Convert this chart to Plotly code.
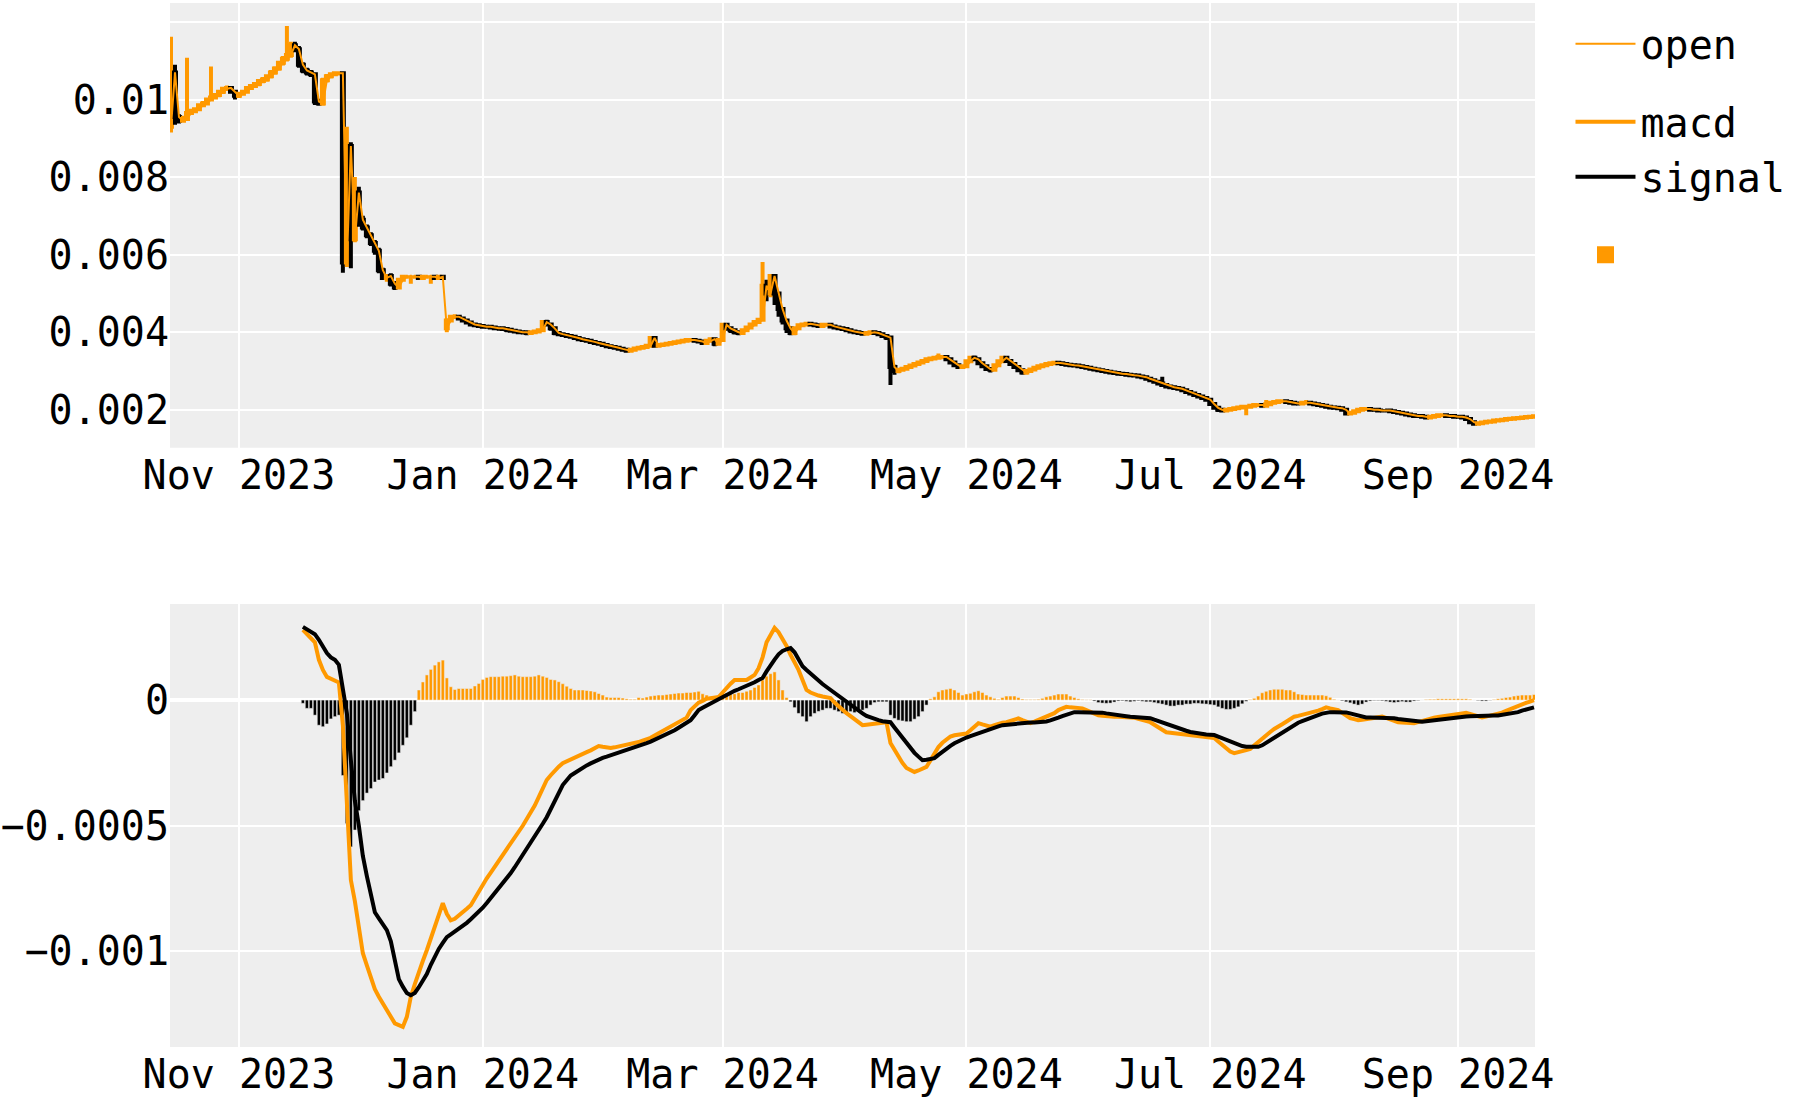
import pandas as pd
import plotly.graph_objects as go
from plotly.subplots import make_subplots

ORANGE = "#ff9900"
BG = "#eeeeee"

# ---- top panel: daily prices, units of 1e-5, starting 2023-10-15 ----
open_ = [
    930, 1070, 955, 945, 950, 965, 970, 975, 985, 990,
    1000, 1005, 1012, 1020, 1028, 1030, 1020, 1010, 1015, 1020,
    1030, 1035, 1040, 1048, 1052, 1060, 1070, 1080, 1095, 1105,
    1115, 1140, 1130, 1090, 1075, 1070, 1065, 995, 990, 1050,
    1060, 1065, 1068, 1068, 580, 880, 640, 760, 690, 670,
    650, 630, 610, 560, 540, 545, 525, 515, 535, 543,
    543, 543, 543, 540, 543, 543, 543, 540, 543, 410,
    430, 440, 440, 435, 430, 425, 420, 418, 416, 414,
    414, 412, 410, 410, 408, 406, 404, 402, 400, 400,
    398, 400, 402, 405, 426, 420, 410, 398, 395, 393,
    390, 388, 385, 382, 380, 378, 375, 372, 370, 367,
    364, 362, 360, 357, 355, 352, 355, 358, 360, 362,
    365, 385, 365, 367, 368, 370, 372, 374, 376, 378,
    380, 380, 378, 376, 372, 378, 382, 370, 380, 419,
    410, 405, 400, 398, 405, 412, 420, 426, 432, 520,
    500, 545, 500, 460, 430, 410, 398, 410, 418, 420,
    422, 420, 418, 416, 419, 419, 415, 412, 410, 408,
    405, 402, 400, 398, 396, 398, 400, 398, 395, 390,
    386, 310, 300, 303, 306, 310, 314, 318, 322, 326,
    330, 332, 334, 336, 336, 330, 322, 315, 310, 312,
    325, 334, 330, 320, 312, 305, 303, 315, 325, 334,
    326, 318, 310, 302, 296, 300, 304, 308, 312, 315,
    318, 320, 321, 320, 318, 316, 315, 314, 312, 310,
    308, 306, 304, 302, 300, 298, 296, 295, 293, 292,
    290, 289, 288, 286, 284, 280, 276, 272, 268, 264,
    260, 258, 256, 254, 250, 246, 242, 238, 234, 230,
    226, 215, 205, 200, 198, 200, 202, 204, 206, 208,
    208, 210, 212, 212, 210, 214, 218, 220, 222, 222,
    220, 218, 216, 216, 218, 218, 216, 214, 212, 210,
    208, 206, 205, 204, 200, 190, 192, 196, 200, 202,
    202, 200, 200, 198, 198, 198, 196, 194, 192, 190,
    188, 186, 184, 184, 182, 180, 182, 184, 186, 186,
    184, 184, 182, 182, 180, 176, 168, 164, 165, 167,
    169, 170, 172, 173, 174, 176, 177, 178, 179, 180,
    181, 182,
]
close_ = [
    1070, 955, 945, 950, 965, 970, 975, 985, 990, 1000,
    1005, 1012, 1020, 1028, 1030, 1020, 1010, 1015, 1020, 1030,
    1035, 1040, 1048, 1052, 1060, 1070, 1080, 1095, 1105, 1115,
    1140, 1130, 1090, 1075, 1070, 1065, 995, 990, 1050, 1060,
    1065, 1068, 1068, 580, 880, 640, 760, 690, 670, 650,
    630, 610, 560, 540, 545, 525, 515, 535, 543, 543,
    543, 543, 540, 543, 543, 543, 540, 543, 540, 430,
    440, 440, 435, 430, 425, 420, 418, 416, 414, 414,
    412, 410, 410, 408, 406, 404, 402, 400, 400, 398,
    400, 402, 405, 426, 420, 410, 398, 395, 393, 390,
    388, 385, 382, 380, 378, 375, 372, 370, 367, 364,
    362, 360, 357, 355, 352, 355, 358, 360, 362, 365,
    385, 365, 367, 368, 370, 372, 374, 376, 378, 380,
    380, 378, 376, 372, 378, 382, 370, 380, 419, 410,
    405, 400, 398, 405, 412, 420, 426, 432, 520, 500,
    545, 500, 460, 430, 410, 398, 410, 418, 420, 422,
    420, 418, 416, 419, 419, 415, 412, 410, 408, 405,
    402, 400, 398, 396, 398, 400, 398, 395, 390, 386,
    310, 300, 303, 306, 310, 314, 318, 322, 326, 330,
    332, 334, 336, 336, 330, 322, 315, 310, 312, 325,
    334, 330, 320, 312, 305, 303, 315, 325, 334, 326,
    318, 310, 302, 296, 300, 304, 308, 312, 315, 318,
    320, 321, 320, 318, 316, 315, 314, 312, 310, 308,
    306, 304, 302, 300, 298, 296, 295, 293, 292, 290,
    289, 288, 286, 284, 280, 276, 272, 268, 264, 260,
    258, 256, 254, 250, 246, 242, 238, 234, 230, 226,
    215, 205, 200, 198, 200, 202, 204, 206, 208, 208,
    210, 212, 212, 210, 214, 218, 220, 222, 222, 220,
    218, 216, 216, 218, 218, 216, 214, 212, 210, 208,
    206, 205, 204, 200, 190, 192, 196, 200, 202, 202,
    200, 200, 198, 198, 198, 196, 194, 192, 190, 188,
    186, 184, 184, 182, 180, 182, 184, 186, 186, 184,
    184, 182, 182, 180, 176, 168, 164, 165, 167, 169,
    170, 172, 173, 174, 176, 177, 178, 179, 180, 181,
    182, 183,
]
high_ = [
    1162, 1090, 962, 958, 1108, 976, 980, 990, 996, 1005,
    1085, 1017, 1025, 1033, 1036, 1035, 1025, 1020, 1025, 1034,
    1040, 1045, 1052, 1058, 1065, 1076, 1086, 1100, 1112, 1190,
    1149, 1149, 1138, 1096, 1082, 1076, 1070, 1002, 1056, 1066,
    1070, 1072, 1072, 1072, 930, 890, 800, 775, 700, 678,
    658, 638, 618, 566, 550, 552, 532, 540, 548, 547,
    547, 547, 547, 547, 547, 547, 547, 547, 547, 436,
    445, 446, 444, 440, 434, 430, 425, 422, 420, 419,
    418, 416, 415, 414, 412, 410, 408, 406, 405, 404,
    404, 406, 409, 430, 432, 425, 414, 402, 399, 397,
    394, 392, 389, 386, 384, 382, 379, 376, 374, 371,
    368, 366, 364, 361, 359, 359, 362, 364, 366, 369,
    388, 388, 371, 372, 374, 376, 378, 380, 382, 384,
    385, 384, 382, 380, 382, 386, 386, 384, 423, 424,
    415, 410, 405, 410, 416, 424, 430, 436, 581, 535,
    548, 548, 505, 465, 435, 415, 414, 422, 424, 426,
    427, 424, 422, 423, 424, 423, 419, 416, 414, 412,
    409, 406, 404, 402, 402, 404, 404, 402, 399, 394,
    390, 316, 307, 310, 314, 318, 322, 326, 330, 334,
    336, 338, 345, 341, 340, 334, 326, 319, 316, 329,
    338, 340, 334, 324, 316, 309, 319, 329, 338, 338,
    330, 322, 314, 306, 304, 308, 312, 316, 319, 322,
    324, 325, 325, 324, 322, 320, 319, 318, 316, 314,
    312, 310, 308, 306, 304, 302, 300, 299, 297, 296,
    294, 293, 292, 290, 288, 284, 280, 276, 285, 268,
    264, 262, 260, 258, 254, 250, 246, 242, 238, 234,
    230, 219, 209, 204, 204, 206, 208, 210, 212, 212,
    214, 216, 216, 216, 225, 222, 224, 226, 226, 226,
    224, 222, 220, 222, 225, 222, 220, 218, 216, 214,
    212, 210, 209, 208, 204, 196, 200, 204, 206, 206,
    206, 204, 204, 202, 202, 202, 200, 198, 196, 194,
    192, 190, 188, 188, 186, 186, 188, 190, 190, 190,
    188, 188, 186, 186, 184, 180, 172, 169, 171, 173,
    174, 176, 177, 178, 180, 181, 182, 183, 184, 185,
    186, 187,
]
low_ = [
    915, 935, 938, 940, 945, 960, 965, 970, 980, 985,
    995, 1000, 1006, 1014, 1022, 1015, 1000, 1004, 1010, 1015,
    1025, 1030, 1034, 1042, 1046, 1054, 1064, 1074, 1088, 1098,
    1108, 1122, 1082, 1068, 1062, 1058, 986, 984, 984, 1044,
    1054, 1060, 1062, 553, 568, 565, 632, 672, 662, 642,
    622, 600, 552, 535, 530, 518, 509, 510, 530, 538,
    525, 538, 535, 535, 538, 525, 535, 535, 535, 400,
    425, 434, 430, 425, 420, 415, 413, 411, 409, 409,
    407, 405, 404, 403, 400, 399, 397, 395, 394, 392,
    393, 395, 397, 400, 415, 404, 392, 390, 388, 385,
    383, 380, 377, 375, 373, 370, 367, 365, 362, 359,
    357, 355, 352, 350, 347, 347, 350, 353, 355, 357,
    360, 360, 360, 362, 363, 365, 367, 369, 371, 373,
    374, 373, 371, 367, 367, 373, 364, 365, 375, 404,
    398, 394, 392, 393, 400, 407, 415, 421, 428, 480,
    490, 470, 440, 420, 398, 392, 392, 405, 413, 415,
    415, 413, 411, 411, 414, 410, 407, 405, 403, 400,
    397, 395, 393, 391, 391, 393, 393, 390, 385, 380,
    264, 290, 294, 298, 301, 305, 309, 313, 317, 321,
    325, 327, 329, 330, 325, 317, 310, 305, 305, 307,
    320, 325, 315, 307, 300, 296, 298, 310, 320, 321,
    313, 305, 297, 290, 290, 295, 299, 303, 307, 310,
    313, 315, 315, 313, 311, 310, 309, 307, 305, 303,
    301, 299, 297, 295, 293, 291, 290, 288, 287, 285,
    284, 283, 281, 279, 275, 271, 267, 263, 259, 255,
    253, 251, 249, 245, 241, 237, 233, 229, 225, 221,
    210, 200, 194, 193, 193, 195, 197, 199, 201, 186,
    203, 205, 207, 205, 205, 209, 213, 215, 217, 215,
    213, 211, 211, 211, 213, 211, 209, 207, 205, 203,
    201, 200, 199, 195, 185, 185, 187, 191, 195, 197,
    195, 195, 193, 193, 193, 191, 189, 187, 185, 183,
    181, 179, 179, 177, 175, 175, 177, 179, 181, 179,
    179, 177, 177, 175, 171, 163, 160, 160, 161, 163,
    165, 166, 168, 169, 170, 172, 173, 174, 175, 176,
    177, 178,
]

# ---- bottom panel: daily MACD values, units of 1e-6, starting 2023-11-17 ----
macd = [
    279, 262, 246, 230, 160, 120, 92, 86, 80, 70,
    -100, -450, -716, -800, -900, -1007, -1055, -1100, -1150, -1180,
    -1205, -1230, -1258, -1286, -1293, -1300, -1260, -1180, -1130, -1080,
    -1038, -995, -948, -900, -855, -808, -850, -876, -870, -858,
    -845, -830, -816, -788, -760, -735, -709, -686, -663, -640,
    -618, -597, -575, -550, -525, -500, -473, -447, -420, -386,
    -352, -318, -299, -280, -265, -251, -243, -235, -228, -220,
    -213, -207, -200, -192, -183, -186, -189, -191, -188, -185,
    -180, -175, -172, -170, -167, -161, -156, -150, -141, -132,
    -124, -115, -107, -98, -90, -80, -70, -40, -25, -10,
    -3, 5, 7, 10, 12, 30, 50, 65, 80, 80,
    80, 80, 90, 100, 127, 170, 230, 260, 287, 270,
    245, 215, 180, 150, 120, 80, 40, 30, 22, 18,
    14, 10, 8, -10, -25, -40, -52, -64, -76, -88,
    -100, -98, -96, -92, -90, -89, -88, -171, -200, -227,
    -250, -270, -280, -286, -280, -273, -266, -240, -213, -187,
    -170, -155, -145, -140, -137, -135, -133, -120, -106, -92,
    -97, -102, -106, -100, -94, -90, -88, -83, -78, -73,
    -80, -86, -92, -86, -80, -73, -67, -61, -52, -40,
    -32, -27, -29, -31, -32, -33, -40, -47, -54, -61,
    -62, -64, -65, -66, -66, -66, -66, -66, -70, -75,
    -80, -84, -88, -98, -108, -118, -128, -130, -132, -134,
    -135, -136, -137, -139, -140, -143, -146, -149, -151, -165,
    -180, -195, -205, -211, -208, -204, -199, -194, -180, -165,
    -151, -139, -127, -115, -107, -96, -86, -76, -66, -63,
    -59, -56, -53, -48, -42, -36, -29, -33, -36, -40,
    -51, -62, -72, -76, -80, -78, -76, -73, -71, -68,
    -66, -71, -77, -83, -88, -89, -90, -91, -92, -88,
    -83, -78, -72, -70, -67, -64, -62, -61, -58, -56,
    -53, -51, -56, -60, -65, -69, -66, -63, -60, -56,
    -50, -43, -36, -29, -23, -17, -11, -6, 0,
]
signal = [
    291, 281, 271, 262, 240, 210, 187, 170, 160, 140,
    52, -52, -239, -400, -500, -620, -700, -770, -844, -868,
    -892, -915, -960, -1040, -1110, -1140, -1165, -1174, -1165, -1142,
    -1116, -1090, -1053, -1020, -990, -966, -943, -932, -921, -910,
    -900, -886, -872, -858, -844, -826, -807, -788, -770, -749,
    -728, -708, -688, -665, -641, -617, -593, -570, -544, -518,
    -492, -466, -433, -400, -369, -338, -319, -300, -290, -279,
    -270, -260, -252, -244, -235, -230, -225, -220, -215, -210,
    -205, -200, -194, -189, -183, -177, -171, -165, -158, -151,
    -144, -137, -130, -120, -110, -100, -90, -80, -60, -40,
    -31, -22, -13, -5, 3, 11, 20, 28, 37, 43,
    49, 55, 63, 71, 80, 88, 114, 140, 161, 182,
    195, 202, 207, 190, 160, 135, 120, 105, 90, 75,
    64, 52, 40, 29, 19, 8, -5, -18, -30, -42,
    -53, -63, -70, -76, -80, -84, -86, -88, -109, -130,
    -150, -171, -190, -210, -225, -239, -237, -234, -231, -218,
    -205, -192, -182, -172, -163, -155, -149, -143, -137, -131,
    -125, -119, -114, -109, -105, -100, -98, -96, -94, -92,
    -91, -90, -89, -89, -88, -88, -85, -81, -77, -70,
    -64, -59, -53, -48, -48, -48, -48, -48, -48, -48,
    -50, -53, -56, -58, -61, -63, -64, -66, -67, -68,
    -69, -70, -72, -78, -84, -90, -96, -101, -106, -112,
    -117, -122, -127, -130, -133, -135, -137, -138, -139, -145,
    -152, -159, -165, -171, -177, -183, -186, -186, -186, -186,
    -180, -170, -161, -151, -140, -130, -120, -109, -98, -90,
    -84, -77, -70, -65, -60, -54, -49, -48, -48, -48,
    -48, -49, -53, -57, -61, -65, -69, -69, -69, -69,
    -69, -69, -69, -72, -75, -77, -80, -83, -85, -88,
    -86, -84, -82, -80, -77, -74, -72, -69, -68, -67,
    -66, -65, -64, -63, -62, -61, -61, -61, -61, -61,
    -59, -56, -53, -50, -48, -42, -37, -33, -29,
]
hist = [
    -13, -33, -33, -60, -100, -106, -95, -75, -66, -60,
    -300, -491, -584, -517, -440, -400, -370, -352, -326, -318,
    -312, -290, -265, -239, -210, -180, -150, -100, -46, 40,
    72, 100, 122, 139, 152, 159, 88, 53, 42, 46,
    46, 46, 46, 56, 66, 82, 90, 93, 93, 93,
    95, 95, 97, 100, 95, 93, 93, 93, 95, 100,
    95, 90, 82, 80, 73, 65, 55, 46, 40, 40,
    40, 38, 36, 33, 26, 20, 12, 10, 10, 10,
    8, 5, 3, 3, 10, 8, 12, 16, 18, 20,
    20, 22, 24, 26, 28, 28, 30, 30, 32, 35,
    25, 20, 15, 10, 20, 35, 28, 25, 25, 30,
    30, 35, 40, 50, 60, 80, 95, 105, 112, 80,
    40, 10, -7, -30, -53, -66, -86, -66, -53, -45,
    -40, -33, -33, -40, -46, -53, -50, -46, -50, -46,
    -40, -33, -20, -10, -7, -7, -7, -60, -73, -80,
    -83, -86, -86, -76, -66, -46, -20, 5, 13, 33,
    40, 43, 46, 40, 30, 20, 24, 27, 33, 37,
    30, 20, 13, 7, 3, 10, 16, 16, 16, 10,
    4, 2, 2, 2, 3, 7, 13, 16, 20, 24,
    24, 24, 16, 10, 5, 2, 1, 1, -4, -10,
    -12, -13, -12, -8, -4, -3, -5, -7, -5, -3,
    -5, -7, -7, -10, -13, -16, -20, -24, -24, -20,
    -20, -16, -16, -13, -13, -15, -16, -18, -20, -27,
    -33, -37, -37, -33, -27, -15, -5, 2, 7, 16,
    29, 35, 40, 43, 43, 43, 40, 40, 33, 24,
    22, 20, 20, 20, 20, 20, 17, 11, 3, 0,
    -3, -7, -11, -16, -20, -16, -8, -4, -2, -2,
    -3, -5, -8, -10, -8, -6, -8, -8, -4, -2,
    0, 2, 3, 3, 5, 5, 5, 5, 5, 5,
    5, 5, 3, 0, -2, -4, -4, -1, 2, 5,
    7, 10, 12, 16, 18, 20, 20, 20, 22,
]

P = 1e-5
M = 1e-6
price_dates = pd.date_range("2023-10-15", periods=len(open_), freq="D")
macd_dates = pd.date_range("2023-11-17", periods=len(macd), freq="D")
signal_dates = pd.date_range("2023-11-17", periods=len(signal), freq="D")
# one leading empty slot (2023-11-16) carries the legend styling of the bar trace
hist_dates = pd.date_range("2023-11-16", periods=len(hist) + 1, freq="D")
hist_y = [None] + [v * M for v in hist]
hist_colors = [ORANGE] + [ORANGE if v >= 0 else "black" for v in hist]
hist_lw = [5] + [0.5] * len(hist)
hist_lc = [ORANGE] + [BG] * len(hist)

fig = make_subplots(rows=2, cols=1, vertical_spacing=0.15)

fig.add_trace(go.Candlestick(
    x=price_dates,
    open=[v * P for v in open_], high=[v * P for v in high_],
    low=[v * P for v in low_], close=[v * P for v in close_],
    increasing=dict(line=dict(color=ORANGE, width=4), fillcolor=ORANGE),
    decreasing=dict(line=dict(color="black", width=4), fillcolor="black"),
    whiskerwidth=0, showlegend=False, name="ohlc",
), row=1, col=1)

fig.add_trace(go.Scatter(
    x=price_dates, y=[v * P for v in open_], mode="lines", name="open",
    line=dict(color=ORANGE, width=2), legendgroup="g1",
), row=1, col=1)

fig.add_trace(go.Scatter(
    x=macd_dates, y=[v * M for v in macd], mode="lines", name="macd",
    line=dict(color=ORANGE, width=4), legendgroup="g2",
), row=2, col=1)

fig.add_trace(go.Scatter(
    x=signal_dates, y=[v * M for v in signal], mode="lines", name="signal",
    line=dict(color="black", width=4), legendgroup="g2",
), row=2, col=1)

fig.add_trace(go.Bar(
    x=hist_dates, y=hist_y, name="",
    marker=dict(color=hist_colors, line=dict(color=hist_lc, width=hist_lw)),
    legendgroup="g3",
), row=2, col=1)

xrange = ["2023-10-14 18:00", "2024-09-20 06:00"]
axis_common = dict(
    showgrid=True, gridcolor="white", gridwidth=2, ticks="", showline=False,
    tickfont=dict(family="DejaVu Sans Mono", size=40, color="black"),
)
for r in (1, 2):
    fig.update_xaxes(
        type="date", range=xrange, tickformat="%b %Y", dtick="M2",
        tick0="2023-11-01", zeroline=False, rangeslider=dict(visible=False),
        row=r, col=1, **axis_common,
    )
fig.update_yaxes(range=[0.00102, 0.01249], dtick=0.002, tick0=0, zeroline=False,
                 domain=[0.574, 1.0], row=1, col=1, **axis_common)
fig.update_yaxes(range=[-0.00138, 0.000382], dtick=0.0005, tick0=0, zeroline=True,
                 zerolinecolor="white", zerolinewidth=4,
                 domain=[0.0, 0.4243], row=2, col=1, **axis_common)

fig.update_layout(
    template="none",
    width=1800, height=1100,
    margin=dict(l=170, r=265, t=3, b=53, pad=0),
    paper_bgcolor="white", plot_bgcolor=BG,
    font=dict(family="DejaVu Sans Mono", size=40, color="black"),
    showlegend=True,
    legend=dict(x=1.026, y=0.992, xanchor="left", yanchor="top",
                tracegroupgap=23, itemwidth=60, bgcolor="rgba(0,0,0,0)",
                font=dict(family="DejaVu Sans Mono", size=40, color="black")),
    bargap=0.2,
)

fig.write_html("out.html")
